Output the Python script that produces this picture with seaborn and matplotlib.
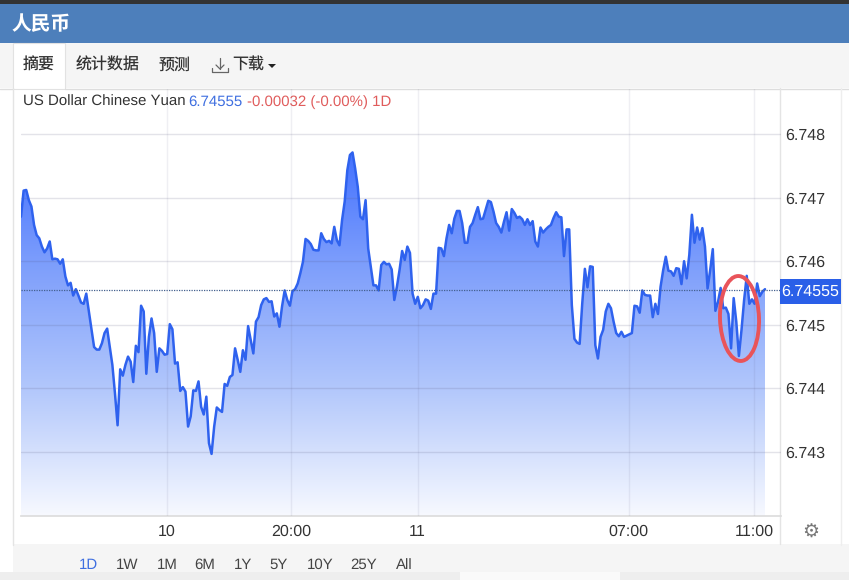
import numpy as np
import matplotlib
matplotlib.use('Agg')
import matplotlib.pyplot as plt
from matplotlib.colors import LinearSegmentedColormap
from matplotlib.patches import Rectangle, Ellipse, Polygon
import seaborn as sns

# USD/CNY intraday
rates = [
    6.74670, 6.74711, 6.74712, 6.74696, 6.74686, 6.74657, 6.74641, 6.74636, 6.74623, 6.74614,
    6.74620, 6.74631, 6.74603, 6.74604, 6.74603, 6.74596, 6.74603, 6.74576, 6.74562, 6.74566,
    6.74546, 6.74556, 6.74546, 6.74535, 6.74533, 6.74549, 6.74521, 6.74492, 6.74465, 6.74461,
    6.74461, 6.74471, 6.74487, 6.74494, 6.74466, 6.74437, 6.74392, 6.74342, 6.74430, 6.74420,
    6.74437, 6.74450, 6.74442, 6.74410, 6.74467, 6.74457, 6.74530, 6.74521, 6.74423, 6.74481,
    6.74510, 6.74487, 6.74426, 6.74463, 6.74459, 6.74453, 6.74454, 6.74501, 6.74493, 6.74439,
    6.74441, 6.74396, 6.74402, 6.74395, 6.74340, 6.74356, 6.74397, 6.74396, 6.74411, 6.74371,
    6.74359, 6.74387, 6.74314, 6.74297, 6.74340, 6.74370, 6.74366, 6.74363, 6.74407, 6.74404,
    6.74418, 6.74421, 6.74463, 6.74445, 6.74426, 6.74460, 6.74445, 6.74498, 6.74476, 6.74455,
    6.74505, 6.74512, 6.74531, 6.74540, 6.74542, 6.74536, 6.74537, 6.74513, 6.74518, 6.74497,
    6.74529, 6.74554, 6.74539, 6.74530, 6.74553, 6.74556, 6.74565, 6.74581, 6.74599, 6.74635,
    6.74632, 6.74627, 6.74618, 6.74617, 6.74617, 6.74644, 6.74635, 6.74630, 6.74632, 6.74628,
    6.74654, 6.74633, 6.74625, 6.74665, 6.74694, 6.74743, 6.74767, 6.74771, 6.74746, 6.74717,
    6.74670, 6.74666, 6.74696, 6.74620, 6.74591, 6.74562, 6.74562, 6.74554, 6.74594, 6.74599,
    6.74595, 6.74596, 6.74587, 6.74539, 6.74560, 6.74586, 6.74616, 6.74602, 6.74623, 6.74613,
    6.74549, 6.74533, 6.74544, 6.74526, 6.74531, 6.74540, 6.74538, 6.74525, 6.74549, 6.74549,
    6.74621, 6.74620, 6.74608, 6.74636, 6.74657, 6.74644, 6.74667, 6.74679, 6.74679, 6.74660,
    6.74629, 6.74629, 6.74654, 6.74660, 6.74673, 6.74685, 6.74666, 6.74667, 6.74681, 6.74695,
    6.74693, 6.74678, 6.74660, 6.74654, 6.74645, 6.74662, 6.74677, 6.74648, 6.74682, 6.74676,
    6.74668, 6.74670, 6.74666, 6.74657, 6.74666, 6.74657, 6.74663, 6.74631, 6.74623, 6.74653,
    6.74645, 6.74650, 6.74654, 6.74657, 6.74668, 6.74677, 6.74670, 6.74669, 6.74608, 6.74650,
    6.74650, 6.74531, 6.74478, 6.74472, 6.74470, 6.74534, 6.74588, 6.74559, 6.74592, 6.74591,
    6.74468, 6.74447, 6.74481, 6.74492, 6.74521, 6.74533, 6.74526, 6.74505, 6.74487, 6.74482,
    6.74489, 6.74481, 6.74483, 6.74485, 6.74487, 6.74530, 6.74529, 6.74519, 6.74554, 6.74547,
    6.74546, 6.74546, 6.74512, 6.74533, 6.74517, 6.74560, 6.74586, 6.74607, 6.74585, 6.74584,
    6.74577, 6.74589, 6.74588, 6.74564, 6.74600, 6.74573, 6.74610, 6.74673, 6.74629, 6.74653,
    6.74634, 6.74652, 6.74623, 6.74557, 6.74586, 6.74619, 6.74522, 6.74536, 6.74558, 6.74526,
    6.74527, 6.74517, 6.74463, 6.74542, 6.74505, 6.74451, 6.74492, 6.74539, 6.74577, 6.74533,
    6.74540, 6.74533, 6.74565, 6.74545, 6.74552, 6.74556,
]
last_price = 6.74555
y_ticks = [6.743, 6.744, 6.745, 6.746, 6.747, 6.748]
x_tick_labels = ['10', '20:00', '11', '07:00', '11:00']
x_tick_fracs = [0.196, 0.363, 0.533, 0.817, 0.985]
range_labels = ['1D', '1W', '1M', '6M', '1Y', '5Y', '10Y', '25Y', 'All']
tab_labels = ['摘要', '统计数据', '预测']

W, H = 849, 580
sns.set_theme(style='white')
plt.rcParams['font.family'] = ['Liberation Sans', 'Noto Sans CJK SC', 'DejaVu Sans']
plt.rcParams['text.hinting'] = 'no_hinting'
plt.rcParams['text.hinting_factor'] = 1

fig = plt.figure(figsize=(W / 100, H / 100), dpi=100, facecolor='white')

# page chrome in pixel coords
bg = fig.add_axes([0, 0, 1, 1], zorder=0)
bg.set_xlim(0, W)
bg.set_ylim(H, 0)
bg.axis('off')
bg.add_patch(Rectangle((0, 0), W, 4, color='#333333', lw=0))
bg.add_patch(Rectangle((0, 4), W, 39, color='#4d7fbb', lw=0))
bg.add_patch(Rectangle((0, 43), W, 45, color='#f5f5f5', lw=0))
bg.add_patch(Rectangle((13, 43), 52, 46, facecolor='white', edgecolor='#e2e2e2', lw=0.8))
bg.plot([0, 13], [88.5, 88.5], color='#dddddd', lw=1)
bg.plot([65, W], [88.5, 88.5], color='#dddddd', lw=1)
bg.plot([13, 13], [88, 545], color='#e4e4e4', lw=1)
bg.plot([841, 841], [88, 545], color='#eeeeee', lw=1)
bg.plot([780.5, 780.5], [88, 544], color='#e4e4e4', lw=1)
bg.add_patch(Rectangle((13, 544), W, 36, color='#f5f5f5', lw=0))
bg.add_patch(Rectangle((0, 572), W, 8, color='#eeeeee', lw=0))
bg.add_patch(Rectangle((460, 572), 160, 8, color='#fafafa', lw=0))

bg.text(12, 25, '人民币', color='white', fontsize=14.2, fontweight='bold', va='center')
for label, cx in zip(tab_labels, [39, 107.5, 175]):
    bg.text(cx, 65.5, label, color='#333333', fontsize=11.5, ha='center', va='center')
bg.text(248.5, 65.5, '下载', color='#333333', fontsize=11.5, ha='center', va='center')
bg.plot([220, 220], [58, 69], color='#666666', lw=0.9)
bg.plot([216, 220, 224], [65, 69, 65], color='#666666', lw=0.9)
bg.plot([212, 212, 228, 228], [68, 72, 72, 68], color='#666666', lw=0.9)
bg.add_patch(Polygon([(268, 64), (276, 64), (272, 68)], color='#222222', lw=0))

# header line, coloured pieces placed one after the other
bg.text(23, 102, 'US Dollar Chinese Yuan', color='#333333', fontsize=10.7, va='center')
bg.text(188, 102, '6.74555', color='#3f6fe0', fontsize=10.7, va='center')
bg.text(247, 102, '-0.00032 (-0.00%) 1D', color='#e05c5c', fontsize=10.7, va='center')

for label, cx in zip(range_labels, [88, 127, 167, 205, 243, 279, 320, 364, 404]):
    bg.text(cx, 565, label, color='#3f6fe0' if label == '1D' else '#444444',
            fontsize=10.5, ha='center', va='center')
bg.text(811, 532, '⚙', family='DejaVu Sans', color='#777777', fontsize=14, ha='center', va='center')

# main chart
ax = fig.add_axes([21 / W, 1 - 516 / H, 760 / W, (516 - 89) / H], zorder=1)
ax.patch.set_alpha(0)
n = len(rates)
slots = np.arange(n)
x_max = (n - 1) * 760 / 744
y_low = 6.748 - (516 - 134) / 63.6 * 0.001
y_high = 6.748 + (134 - 89) / 63.6 * 0.001

# gradient fill clipped to the area under the line
grad = LinearSegmentedColormap.from_list(
    'area', [(0, '#f7f9ff'), (0.35, '#b2c7fb'), (0.7, '#7c9dfc'), (1, '#4472ff')])
area = ax.fill_between(slots, rates, y_low, color='none', lw=0)
img = ax.imshow(np.linspace(0, 1, 256).reshape(-1, 1), cmap=grad, origin='lower', aspect='auto',
                extent=(0, n - 1, y_low, 6.74771), zorder=1)
img.set_clip_path(area.get_paths()[0], transform=ax.transData)

sns.lineplot(x=slots, y=rates, ax=ax, color='#2f62ee', lw=1.8, zorder=3, estimator=None)
ax.axhline(last_price, color='#44608f', lw=0.9, ls=(0, (1, 1)), zorder=4)

ax.set_xlim(0, x_max)
ax.set_ylim(y_low, y_high)
ax.set_yticks(y_ticks)
ax.set_yticklabels([f'{v:.3f}' for v in y_ticks])
ax.yaxis.tick_right()
ax.set_xticks([f * (n - 1) for f in x_tick_fracs])
ax.set_xticklabels(x_tick_labels)
ax.tick_params(axis='both', length=0, labelsize=11.5, labelcolor='#333333')
ax.tick_params(axis='y', pad=3)
ax.tick_params(axis='x', pad=6)
ax.grid(True, axis='y', color='#55557a', alpha=0.16, lw=1, zorder=2)
ax.grid(True, axis='x', color='#55557a', alpha=0.09, lw=1, zorder=2)
ax.set_axisbelow(False)
for side in ['top', 'left', 'right']:
    ax.spines[side].set_visible(False)
ax.spines['bottom'].set_color('#dddddd')

# overlay for the price tag and the hand-drawn circle
top = fig.add_axes([0, 0, 1, 1], zorder=2)
top.set_xlim(0, W)
top.set_ylim(H, 0)
top.axis('off')
top.add_patch(Ellipse((739.5, 318.5), 39, 85, facecolor='none', edgecolor='#e9545a', lw=2.8, angle=-2))
top.add_patch(Rectangle((780, 279), 61, 25, color='#2a5fe8', lw=0))
top.text(810.5, 292, f'{last_price:.5f}', color='white', fontsize=11.3, ha='center', va='center')

fig.savefig('out.png', dpi=100)
